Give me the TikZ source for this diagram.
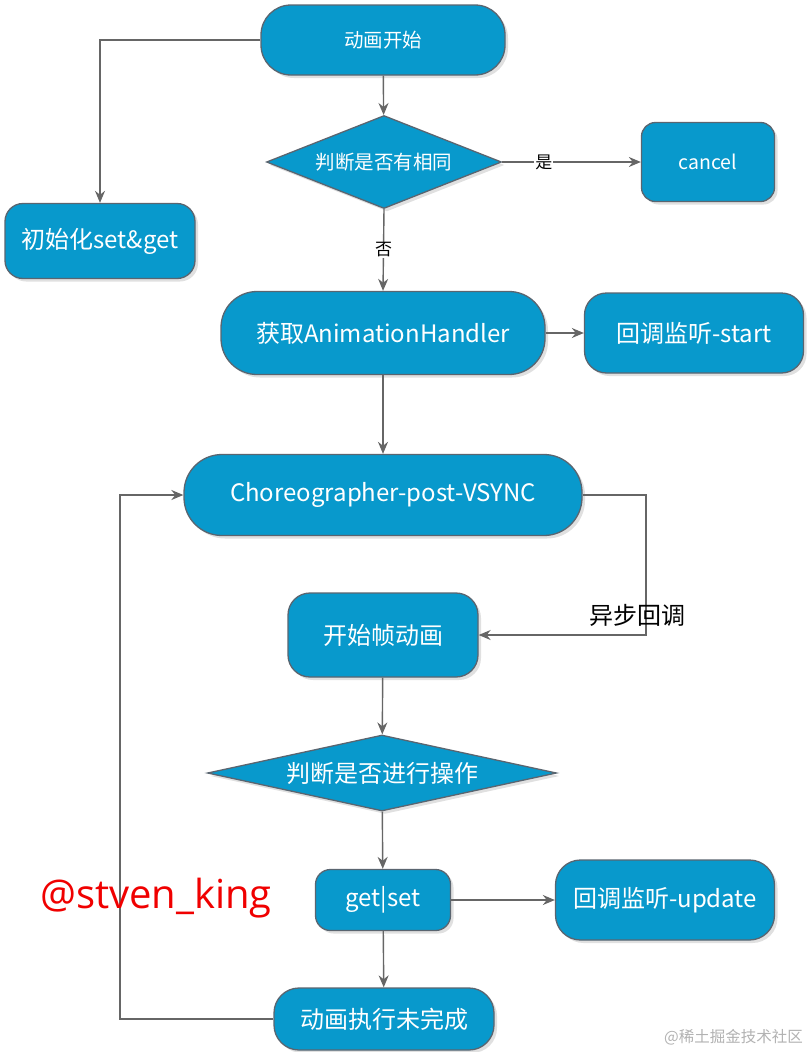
\documentclass[tikz,border=0pt]{standalone}
\usepackage{fontspec}
\setmainfont{Noto Sans CJK SC}
\newfontfamily\wmfont{Open Sans}
\usetikzlibrary{shapes.geometric,arrows.meta,shadows}
\definecolor{nodeblue}{HTML}{0899CC}
\definecolor{nodeedge}{HTML}{5A6570}
\definecolor{linegray}{HTML}{666666}
\definecolor{wmred}{HTML}{F00000}
\begin{document}
\begin{tikzpicture}[x=1pt,y=-1pt,
  box/.style={draw=nodeedge, line width=1.3pt, fill=nodeblue, text=white, align=center, inner sep=0pt,
    drop shadow={shadow xshift=3pt,shadow yshift=-3pt,fill=black,opacity=0.12}},
  dia/.style={box, shape=diamond},
  big/.style={font=\fontsize{24}{28}\selectfont},
  small/.style={font=\fontsize{19.5}{23}\selectfont},
  conn/.style={draw=linegray, line width=1.4pt, -{Stealth[length=12pt,width=10pt]}},
  lab/.style={fill=white, inner sep=1pt, text=black, font=\fontsize{17}{20}\selectfont}
]
\useasboundingbox (0,0) rectangle (806,1052);
\fill[white] (0,0) rectangle (806,1052);

% nodes
\node[box,small,minimum width=244pt,minimum height=70pt,rounded corners=30pt] (start) at (383,40) {动画开始};
\node[dia,small,aspect=2.5,minimum width=235pt,minimum height=93pt] (d1) at (384,162) {判断是否有相同};
\node[box,small,minimum width=133pt,minimum height=79pt,rounded corners=14pt] (cancel) at (708,162) {cancel};
\node[box,big,minimum width=190pt,minimum height=75pt,rounded corners=18pt] (init) at (100,241) {初始化set\&get};
\node[box,big,minimum width=324pt,minimum height=83pt,rounded corners=36pt] (handler) at (383,333) {获取AnimationHandler};
\node[box,big,minimum width=219pt,minimum height=80pt,rounded corners=22pt] (cbstart) at (694,333) {回调监听-start};
\node[box,big,minimum width=398pt,minimum height=81pt,rounded corners=38pt] (chor) at (383,495) {Choreographer-post-VSYNC};
\node[box,big,minimum width=190pt,minimum height=84pt,rounded corners=22pt] (frame) at (383,635) {开始帧动画};
\node[dia,big,aspect=4.6,minimum width=349pt,minimum height=76pt] (d2) at (382,773) {判断是否进行操作};
\node[box,big,minimum width=135pt,minimum height=61pt,rounded corners=15pt] (getset) at (383,900) {get|set};
\node[box,big,minimum width=219pt,minimum height=80pt,rounded corners=25pt] (cbupdate) at (665,900) {回调监听-update};
\node[box,big,minimum width=220pt,minimum height=62pt,rounded corners=25pt] (notdone) at (384,1019) {动画执行未完成};

% connectors
\coordinate (c1) at (100,41);
\draw[conn] (start.west) -- (start.west -| c1) -- (init.north);
\draw[conn] (start) -- (d1);
\draw[conn] (d1.east) -- node[lab,pos=0.3]{是} (cancel.west);
\draw[conn] (d1.south) -- node[lab,pos=0.5]{否} (handler.north);
\draw[conn] (handler) -- (cbstart);
\draw[conn] (handler) -- (chor);
\coordinate (c2) at (646,495);
\draw[conn] (chor.east) -- (c2) -- (c2 |- frame.east) -- (frame.east);
\node[text=black,font=\fontsize{24}{28}\selectfont,inner sep=0pt] (async) at (637,615) {异步回调};
\draw[conn] (frame) -- (d2);
\draw[conn] (d2) -- (getset);
\draw[conn] (getset) -- (cbupdate);
\draw[conn] (getset) -- (notdone);
\coordinate (c3) at (120,1019);
\draw[conn] (notdone.west) -- (c3) -- (c3 |- chor.west) -- (chor.west);

% watermarks
\node[text=wmred,font=\wmfont\fontsize{40}{44}\selectfont,inner sep=0pt] (wm) at (156,898) {@stven\_king};
\node[text=black!30,font=\fontsize{15.5}{18}\selectfont,inner sep=0pt,anchor=east] (wm2) at (803,1037) {@稀土掘金技术社区};
\end{tikzpicture}
\end{document}
